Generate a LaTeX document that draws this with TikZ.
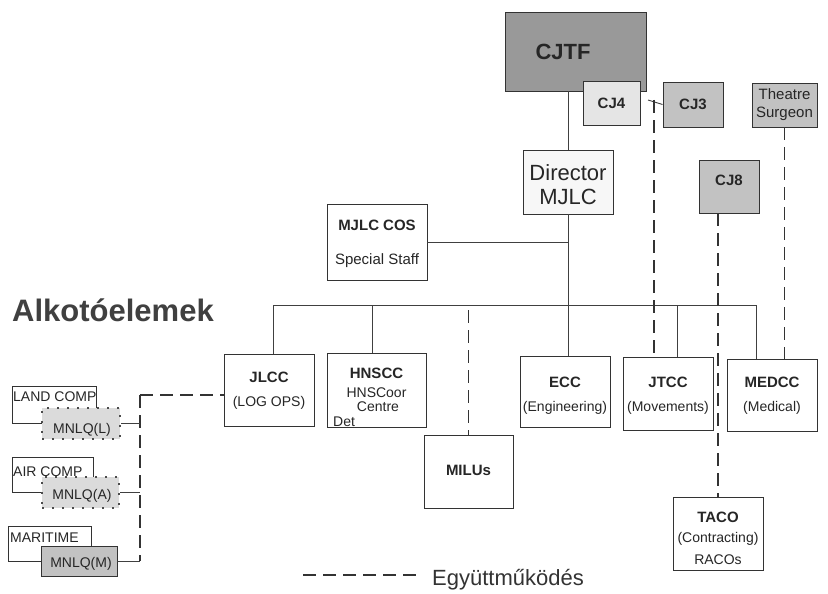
\documentclass[tikz,border=0pt]{standalone}
\usepackage{fontspec}
\setmainfont{Liberation Sans}
\newcommand\blbl{\fontsize{15}{18}\selectfont\bfseries}
\newcommand\nlbl{\fontsize{14}{17}\selectfont}
\begin{document}
\begin{tikzpicture}[x=1pt,y=-1pt,
  box/.style={draw=black!80, line width=0.9pt, inner sep=0, fill=white},
  dk/.style={box, fill=black!40},
  md/.style={box, fill=black!24},
  lt/.style={box, fill=black!10},
  hnd/.style={fill=black!14, draw=black!70, line width=2pt, dash pattern=on 2pt off 8pt, inner sep=0},
  coop/.style={draw=black!80, line width=1.1pt, dash pattern=on 13pt off 7pt},
  link/.style={draw=black!75, line width=0.9pt},
  lbl/.style={inner sep=0, text=black!85},
  bl/.style={lbl, font=\blbl},
  nl/.style={lbl, font=\nlbl}]
\fill[white] (0,0) rectangle (828,594);
\useasboundingbox (0,0) rectangle (828,594);

% top boxes
\node[dk, minimum width=141, minimum height=79] (cjtf) at (575.5,51.5) {};
\node[lbl, font=\fontsize{22}{26}\selectfont\bfseries] (tcjtf) at (563,52) {CJTF};
\node[lt, minimum width=57, minimum height=44] (cj4) at (611.5,103) {};
\node[bl] (tcj4) at (611.5,103) {CJ4};
\node[md, minimum width=60, minimum height=45] (cj3) at (693,104.5) {};
\node[bl] (tcj3) at (693,104.5) {CJ3};
\node[md, minimum width=65, minimum height=44] (ts) at (784.5,105) {};
\node[lbl, font=\fontsize{15}{18}\selectfont, align=center] (tts) at (784.5,105) {Theatre\\Surgeon};
\node[box, fill=black!3, minimum width=90, minimum height=64] (dir) at (568,182) {};
\node[lbl, font=\fontsize{22}{24}\selectfont, align=center] (tdir) at (568,185) {Director\\MJLC};
\node[md, minimum width=60, minimum height=53] (cj8) at (729,186.5) {};
\node[bl] (tcj8) at (729,180) {CJ8};
\node[box, minimum width=100, minimum height=76] (cos) at (377,242) {};
\node[bl] (tcos1) at (377,225) {MJLC COS};
\node[lbl, font=\fontsize{15}{18}\selectfont] (tcos2) at (377,261) {Special Staff};

% heading
\node[lbl, anchor=west, font=\fontsize{31}{36}\selectfont\bfseries, text=black!75] (head) at (12,310) {Alkotóelemek};

% second level
\node[box, minimum width=90, minimum height=72] (jlcc) at (269,390) {};
\node[bl] (tjlcc1) at (269,377) {JLCC};
\node[nl] (tjlcc2) at (269,403) {(LOG OPS)};
\node[box, minimum width=99, minimum height=74] (hnscc) at (376.5,390) {};
\node[bl] (thn1) at (376.5,373) {HNSCC};
\node[nl] (thn2) at (376.5,393) {HNSCoor};
\node[nl] (thn3) at (378,407) {Centre};
\node[nl, anchor=west] (thn4) at (333,422) {Det};
\node[box, minimum width=90, minimum height=71] (ecc) at (565,391.5) {};
\node[bl] (tecc1) at (565,382) {ECC};
\node[nl] (tecc2) at (565,408) {(Engineering)};
\node[box, minimum width=90, minimum height=73] (jtcc) at (668,393.5) {};
\node[bl] (tjt1) at (668,382) {JTCC};
\node[nl] (tjt2) at (668,408) {(Movements)};
\node[box, minimum width=90, minimum height=72] (medcc) at (772,395) {};
\node[bl] (tmed1) at (772,382) {MEDCC};
\node[nl] (tmed2) at (772,408) {(Medical)};
\node[box, minimum width=89, minimum height=73] (milus) at (468.5,471.5) {};
\node[bl] (tmil) at (468.5,470) {MILUs};
\node[box, minimum width=90, minimum height=73] (taco) at (718,533.5) {};
\node[bl] (tta1) at (718,517) {TACO};
\node[nl] (tta2) at (718,539) {(Contracting)};
\node[nl] (tta3) at (718,560) {RACOs};

% left components
\node[box, minimum width=84, minimum height=37] (land) at (54,404.5) {};
\node[nl, anchor=west] (tland) at (13,397) {LAND COMP};
\node[hnd, minimum width=78, minimum height=31] (ml) at (81,423.5) {};
\node[nl] (tml) at (82,430) {MNLQ(L)};
\node[box, minimum width=81, minimum height=35] (air) at (52.5,474.5) {};
\node[nl, anchor=west] (tair) at (13,472) {AIR COMP};
\node[hnd, minimum width=77, minimum height=31] (ma) at (80.5,492.5) {};
\node[nl] (tma) at (82,496) {MNLQ(A)};
\node[box, minimum width=83, minimum height=35] (mar) at (49.5,543.5) {};
\node[nl, anchor=west] (tmar) at (10,538) {MARITIME};
\node[md, minimum width=76, minimum height=30] (mm) at (79,561) {};
\node[nl] (tmm) at (81,564) {MNLQ(M)};

% solid links
\coordinate (busL) at (273,305);
\coordinate (busR) at (756,305);
\coordinate (s2) at (372,305);
\coordinate (s5) at (677,305);
\draw[link] (cjtf.south -| dir.north) -- (dir.north);
\draw[link] (dir.south) -- (dir.south |- ecc.north);
\draw[link] (cos.east) -- (cos.east -| dir.south);
\draw[link] (busL |- jlcc.north) -- (busL) -- (busR) -- (busR |- medcc.north);
\draw[link] (s2) -- (s2 |- hnscc.north);
\draw[link] (s5) -- (s5 |- jtcc.north);

% cooperation (dashed)
\coordinate (tl) at (648,100);
\coordinate (tj) at (654,100);
\draw[link] (tl) -- (cj3.west);
\draw[coop] (tj) -- (tj |- jtcc.north);
\draw[coop] (ts.south) -- (ts.south |- medcc.north);
\draw[coop] (taco.north |- cj8.south) -- (taco.north);
\draw[coop] (milus.north |- 0,310) -- (milus.north);

\coordinate (vx) at (140,395);
\draw[coop] (vx) -- (vx -| jlcc.west);
\draw[coop] (vx) -- (vx |- mm.east);
\draw[link] (ml.east) -- (ml.east -| vx);
\draw[link] (ma.east) -- (ma.east -| vx);
\draw[link] (mm.east) -- (mm.east -| vx);

% legend
\coordinate (lg1) at (303,575);
\coordinate (lg2) at (418,575);
\draw[coop] (lg1) -- (lg2);
\node[lbl, anchor=west, font=\fontsize{22}{26}\selectfont, text=black!80] (tlg) at (432,580) {Együttműködés};
\end{tikzpicture}
\end{document}
